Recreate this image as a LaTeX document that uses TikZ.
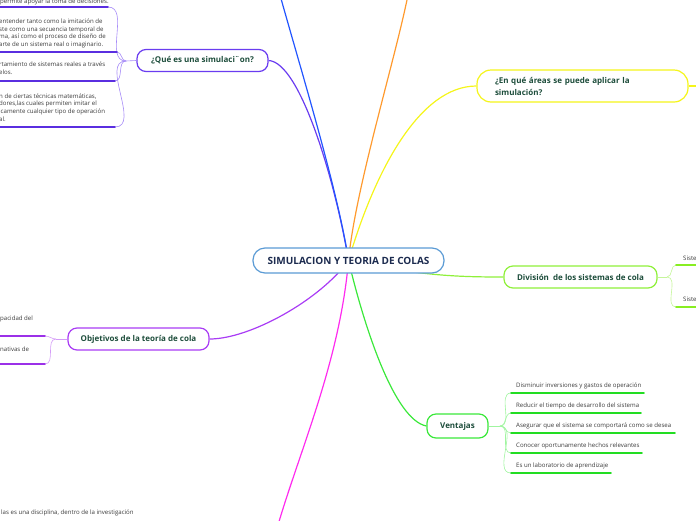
\documentclass[tikz,border=0pt]{standalone}
\usepackage{fontspec}
\setmainfont{Open Sans}
\usetikzlibrary{backgrounds}

\definecolor{rootline}{HTML}{5B9BD5}
\definecolor{roottext}{HTML}{1C2B4F}
\definecolor{topictext}{HTML}{1D4D3B}
\definecolor{leaftext}{HTML}{3A3A3A}
\definecolor{qeline}{HTML}{6A3CF0}
\definecolor{qeleaf}{HTML}{A68BF7}
\definecolor{qebar}{HTML}{5A2EE0}
\definecolor{blueline}{HTML}{2255FF}
\definecolor{orangeline}{HTML}{FF9A2E}
\definecolor{yellowline}{HTML}{F5F51A}
\definecolor{limeline}{HTML}{8FF03A}
\definecolor{limeleaf}{HTML}{C5F59A}
\definecolor{limebar}{HTML}{88EE22}
\definecolor{greenline}{HTML}{3BE83B}
\definecolor{greenleaf}{HTML}{A0F5A0}
\definecolor{greenbar}{HTML}{22DD22}
\definecolor{violetline}{HTML}{A93CF5}
\definecolor{violetleaf}{HTML}{D49CF7}
\definecolor{violetbar}{HTML}{9B30E8}
\definecolor{magentaline}{HTML}{FF2BEF}

\begin{document}
\begin{tikzpicture}[x=1pt, y=-1pt,
    topic/.style={
        draw, fill=white, line width=1.2pt, rounded corners=9pt,
        inner sep=0pt, font=\fontsize{8}{12}\selectfont\bfseries, text=topictext
    },
    leaf/.style={anchor=west, inner sep=0pt, align=left, text=leaftext,
        font=\fontsize{6.1}{7.6}\selectfont},
    link/.style={line width=1.2pt},
    twig/.style={line width=0.6pt},
    bar/.style={line width=1.8pt, line cap=round}
]
\useasboundingbox (0,0) rectangle (696,520);
\clip (0,0) rectangle (696,520);

% topics
\node[topic, draw=rootline, text=roottext, minimum width=191pt, minimum height=25pt,
      rounded corners=12pt, font=\fontsize{10}{12}\selectfont\bfseries]
      (root) at (348.5,260.5) {SIMULACION Y TEORIA DE COLAS};
\node[topic, draw=qeline, minimum width=131pt, minimum height=22pt]
      (qe) at (202.5,60.5) {¿Qué es una simulaci¨on?};
\node[topic, draw=yellowline, minimum width=211pt, minimum height=32pt, rounded corners=14pt,
      text width=175pt, inner xsep=18pt, align=left]
      (areas) at (582.5,86) {¿En qué áreas se puede aplicar la\\simulación?};
\node[topic, draw=limeline, minimum width=153pt, minimum height=22pt]
      (div) at (580.5,277) {División\ \ de los sistemas de cola};
\node[topic, draw=greenline, minimum width=61pt, minimum height=24pt]
      (ven) at (457.5,426) {Ventajas};
\node[topic, draw=violetline, minimum width=141pt, minimum height=22pt]
      (obj) at (138.5,339) {Objetivos de la teoría de cola};

\coordinate (blueend)    at (280,-5);
\coordinate (orangeend)  at (408,-5);
\coordinate (areasend)   at (700,86);
\coordinate (magentaend) at (278,525);

% main branches
\begin{scope}[on background layer]
\draw[link, qeline]      (root.center) .. controls (335,180) and (300,62) .. (qe.east);
\draw[link, blueline]    (root.center) .. controls (338,190) and (298,60) .. (blueend);
\draw[link, orangeline]  (root.center) .. controls (355,190) and (395,60) .. (orangeend);
\draw[link, yellowline]  (root.center) .. controls (375,170) and (420,86) .. (areas.west);
\draw[link, yellowline]  (areas.east) -- (areasend);
\draw[link, limeline]    (root.center) .. controls (420,276) and (460,277) .. (div.west);
\draw[link, greenline]   (root.center) .. controls (365,330) and (395,420) .. (ven.west);
\draw[link, violetline]  (root.center) .. controls (320,300) and (250,339) .. (obj.east);
\draw[link, magentaline] (root.center) .. controls (340,360) and (300,450) .. (magentaend);
\end{scope}

% ¿Que es una simulacion?
\coordinate (qefork) at (126,61);
\coordinate (qe0) at (108,7);
\coordinate (qe1) at (117,52);
\coordinate (qe2) at (115,81);
\coordinate (qe3) at (115,127);
\draw[twig, qeleaf] (qe.west) -- (qefork);
\draw[twig, qeleaf] (qefork) to[out=180,in=0] (qe0);
\draw[twig, qeleaf] (qefork) to[out=180,in=0] (qe1);
\draw[twig, qeleaf] (qefork) to[out=180,in=0] (qe2);
\draw[twig, qeleaf] (qefork) to[out=180,in=0] (qe3);
\draw[bar, qebar] (-5,7) -- (qe0);
\draw[bar, qebar] (-5,52) -- (qe1);
\draw[bar, qebar] (-5,81) -- (qe2);
\draw[bar, qebar] (-5,127) -- (qe3);
\node[leaf] (qe0t) at (0,1.5) {permite apoyar la toma de decisiones.};
\node[leaf] (qe1t) at (-1,33.5) {entender tanto como la imitación de\\ste como una secuencia temporal de\\ma, así como el proceso de diseño de\\arte de un sistema real o imaginario.};
\node[leaf] (qe2t) at (-1,68.5) {rtamiento de sistemas reales a través\\elos.};
\node[leaf] (qe3t) at (-1,107.5) {n de ciertas técnicas matemáticas,\\dores,las cuales permiten imitar el\\icamente cualquier tipo de operación\\al.};

% Division de los sistemas de cola
\coordinate (divfork) at (667,277);
\coordinate (dv1) at (676,265);
\coordinate (dv2) at (676,307);
\draw[twig, limeleaf] (div.east) -- (divfork);
\draw[twig, limeleaf] (divfork) to[out=0,in=180] (dv1);
\draw[twig, limeleaf] (divfork) to[out=0,in=180] (dv2);
\draw[bar, limebar] (dv1) -- (705,265);
\draw[bar, limebar] (dv2) -- (705,307);
\node[leaf] (dv1t) at (683,258) {Siste};
\node[leaf] (dv2t) at (683,299) {Siste};

% Ventajas
\coordinate (venfork) at (500,426);
\coordinate (v1) at (511,393);
\coordinate (v2) at (511,413);
\coordinate (v3) at (511,433);
\coordinate (v4) at (511,453);
\coordinate (v5) at (511,473);
\draw[twig, greenleaf] (ven.east) -- (venfork);
\draw[twig, greenleaf] (venfork) to[out=0,in=180] (v1);
\draw[twig, greenleaf] (venfork) to[out=0,in=180] (v2);
\draw[twig, greenleaf] (venfork) to[out=0,in=180] (v3);
\draw[twig, greenleaf] (venfork) to[out=0,in=180] (v4);
\draw[twig, greenleaf] (venfork) to[out=0,in=180] (v5);
\draw[bar, greenbar] (v1) -- (644,393);
\draw[bar, greenbar] (v2) -- (641,413);
\draw[bar, greenbar] (v3) -- (675,433);
\draw[bar, greenbar] (v4) -- (642,453);
\draw[bar, greenbar] (v5) -- (611,473);
\node[leaf] (v1t) at (516,386) {Disminuir inversiones y gastos de operación};
\node[leaf] (v2t) at (516,406) {Reducir el tiempo de desarrollo del sistema};
\node[leaf] (v3t) at (516,426) {Asegurar que el sistema se comportará como se desea};
\node[leaf] (v4t) at (516,446) {Conocer oportunamente hechos relevantes};
\node[leaf] (v5t) at (516,466) {Es un laboratorio de aprendizaje};

% Objetivos de la teoria de cola
\coordinate (objfork) at (56,339);
\coordinate (ob1) at (45,336);
\coordinate (ob2) at (45,364);
\draw[twig, violetleaf] (obj.west) -- (objfork);
\draw[twig, violetleaf] (objfork) to[out=180,in=0] (ob1);
\draw[twig, violetleaf] (objfork) to[out=180,in=0] (ob2);
\draw[bar, violetbar] (-5,336) -- (ob1);
\draw[bar, violetbar] (-5,364) -- (ob2);
\node[leaf] (ob1t) at (0,319) {pacidad del};
\node[leaf] (ob2t) at (0,349) {nativas de};

% bottom left
\node[leaf] (colast) at (1,513) {las es una disciplina, dentro de la investigación};

\end{tikzpicture}
\end{document}
